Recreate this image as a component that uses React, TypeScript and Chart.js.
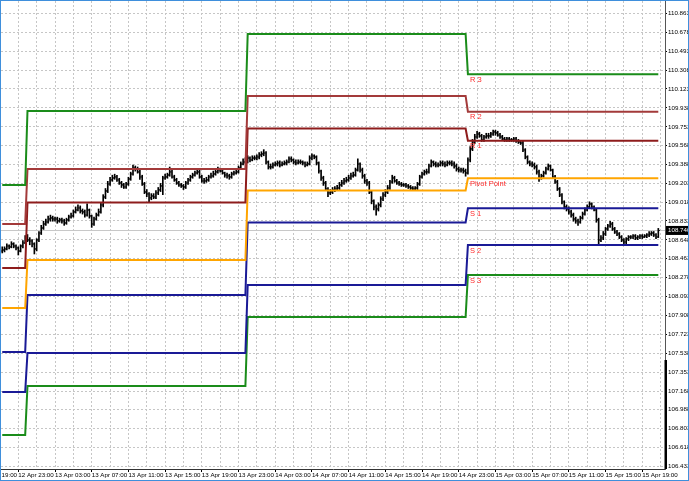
import React, { useEffect, useRef } from "react";
import { Chart, registerables } from "chart.js";

Chart.register(...registerables);

// ---- time layout (hours relative to 13 Apr 00:00), 15-minute bars ----
const barStartHour = -2.75; // 12 Apr 21:15
const barStepHours = 0.25;
const axisMinHour = -2.886;
const axisMaxHour = 69.48;
const gridStartHour = -1;
const gridStepHours = 2;

// ---- price bars (USDJPY-like, M15) ----
const firstOpen = 108.539;
const closes = [
  108.549,108.559,108.588,108.579,108.608,108.588,108.569,108.539,108.588,108.618,
  108.667,108.647,108.637,108.608,108.559,108.647,108.715,108.764,108.803,108.823,
  108.852,108.862,108.852,108.852,108.833,108.843,108.833,108.813,108.843,108.872,
  108.882,108.921,108.940,108.960,108.931,108.921,108.891,108.940,108.882,108.803,
  108.852,108.891,108.921,108.989,109.067,109.126,109.194,109.234,109.253,109.263,
  109.234,109.204,109.185,109.165,109.194,109.243,109.292,109.351,109.341,109.312,
  109.263,109.194,109.116,109.097,109.058,109.077,109.067,109.107,109.136,109.175,
  109.253,109.263,109.282,109.312,109.263,109.234,109.204,109.185,109.175,109.165,
  109.204,109.234,109.263,109.282,109.302,109.312,109.263,109.224,109.224,109.234,
  109.263,109.273,109.292,109.312,109.331,109.321,109.302,109.282,109.273,109.263,
  109.292,109.302,109.312,109.351,109.390,109.409,109.419,109.448,109.429,109.448,
  109.448,109.458,109.478,109.488,109.497,109.409,109.361,109.361,109.380,109.390,
  109.400,109.380,109.390,109.400,109.409,109.439,109.429,109.409,109.400,109.409,
  109.409,109.400,109.380,109.390,109.448,109.468,109.458,109.400,109.321,109.253,
  109.204,109.146,109.107,109.116,109.136,109.146,109.155,109.185,109.204,109.224,
  109.234,109.253,109.273,109.282,109.331,109.390,109.331,109.273,109.224,109.204,
  109.116,109.028,108.970,108.950,108.989,109.048,109.087,109.116,109.155,109.214,
  109.253,109.224,109.204,109.194,109.185,109.185,109.175,109.165,109.155,109.146,
  109.155,109.194,109.263,109.292,109.312,109.312,109.370,109.409,109.390,109.380,
  109.380,109.400,109.390,109.380,109.400,109.400,109.390,109.370,109.341,109.331,
  109.331,109.321,109.302,109.429,109.537,109.605,109.654,109.683,109.664,109.625,
  109.654,109.664,109.664,109.683,109.703,109.693,109.673,109.654,109.634,109.625,
  109.634,109.625,109.625,109.634,109.615,109.605,109.595,109.527,109.458,109.409,
  109.390,109.380,109.361,109.312,109.253,109.273,109.302,109.341,109.370,109.331,
  109.263,109.214,109.146,109.087,109.019,108.970,108.950,108.921,108.891,108.852,
  108.833,108.823,108.862,108.901,108.940,108.970,108.999,108.970,108.940,108.843,
  108.647,108.667,108.706,108.755,108.784,108.803,108.755,108.725,108.706,108.676,
  108.647,108.627,108.657,108.676,108.676,108.686,108.667,108.676,108.686,108.676,
  108.686,108.696,108.706,108.715,108.696,108.676,108.740
];
const highs = [
  108.58,108.58,108.61,108.60,108.63,108.62,108.60,108.58,108.60,108.64,
  108.69,108.70,108.67,108.65,108.62,108.66,108.73,108.79,108.83,108.85,
  108.88,108.89,108.88,108.87,108.87,108.86,108.86,108.85,108.86,108.89,
  108.91,108.94,108.97,108.99,108.98,108.95,108.94,109.00,108.95,108.89,
  108.87,108.91,108.95,109.01,109.09,109.15,109.22,109.26,109.28,109.29,
  109.28,109.25,109.22,109.20,109.21,109.26,109.31,109.38,109.37,109.36,
  109.33,109.28,109.21,109.14,109.11,109.10,109.10,109.13,109.16,109.20,
  109.27,109.29,109.30,109.36,109.33,109.28,109.25,109.22,109.20,109.19,
  109.22,109.25,109.28,109.30,109.32,109.34,109.33,109.28,109.25,109.26,
  109.28,109.30,109.32,109.33,109.36,109.35,109.34,109.31,109.30,109.29,
  109.31,109.32,109.33,109.37,109.41,109.44,109.45,109.47,109.46,109.47,
  109.47,109.48,109.50,109.51,109.53,109.51,109.42,109.39,109.40,109.41,
  109.42,109.42,109.41,109.42,109.43,109.46,109.46,109.44,109.43,109.43,
  109.43,109.42,109.41,109.41,109.47,109.49,109.48,109.47,109.41,109.33,
  109.27,109.22,109.16,109.14,109.16,109.17,109.18,109.21,109.23,109.25,
  109.26,109.28,109.30,109.31,109.35,109.44,109.40,109.35,109.29,109.24,
  109.22,109.13,109.04,108.99,109.01,109.07,109.11,109.14,109.18,109.23,
  109.28,109.27,109.24,109.22,109.21,109.20,109.20,109.19,109.18,109.17,
  109.17,109.21,109.28,109.31,109.33,109.34,109.39,109.43,109.42,109.41,
  109.40,109.42,109.42,109.41,109.42,109.42,109.42,109.41,109.39,109.36,
  109.35,109.35,109.34,109.45,109.56,109.63,109.68,109.71,109.70,109.68,
  109.67,109.69,109.69,109.70,109.72,109.72,109.71,109.69,109.67,109.65,
  109.65,109.65,109.64,109.65,109.65,109.63,109.62,109.61,109.54,109.47,
  109.42,109.41,109.40,109.38,109.33,109.29,109.32,109.36,109.39,109.38,
  109.34,109.28,109.23,109.16,109.10,109.03,108.99,108.97,108.94,108.91,
  108.87,108.85,108.88,108.92,108.96,108.99,109.02,109.01,108.98,108.95,
  108.86,108.69,108.73,108.77,108.80,108.83,108.82,108.77,108.74,108.72,
  108.69,108.66,108.67,108.69,108.69,108.70,108.70,108.69,108.70,108.70,
  108.70,108.71,108.73,108.73,108.73,108.71,108.76
];
const lows = [
  108.52,108.53,108.55,108.56,108.57,108.57,108.55,108.50,108.53,108.57,
  108.61,108.63,108.60,108.58,108.51,108.54,108.63,108.70,108.75,108.79,
  108.81,108.83,108.83,108.83,108.81,108.82,108.81,108.79,108.80,108.83,
  108.86,108.87,108.91,108.93,108.91,108.90,108.87,108.88,108.86,108.77,
  108.79,108.84,108.88,108.91,108.97,109.05,109.11,109.18,109.22,109.24,
  109.22,109.19,109.16,109.15,109.15,109.18,109.23,109.28,109.32,109.30,
  109.24,109.18,109.10,109.07,109.02,109.04,109.05,109.05,109.09,109.12,
  109.09,109.24,109.25,109.27,109.25,109.22,109.19,109.17,109.16,109.14,
  109.15,109.19,109.22,109.25,109.27,109.29,109.25,109.21,109.20,109.21,
  109.22,109.25,109.26,109.28,109.30,109.31,109.29,109.26,109.25,109.24,
  109.25,109.28,109.29,109.30,109.34,109.38,109.39,109.40,109.41,109.42,
  109.43,109.43,109.44,109.46,109.47,109.39,109.34,109.34,109.35,109.37,
  109.37,109.36,109.37,109.38,109.38,109.40,109.41,109.39,109.38,109.39,
  109.39,109.38,109.36,109.37,109.38,109.43,109.44,109.38,109.30,109.23,
  109.18,109.13,109.07,109.09,109.10,109.12,109.13,109.14,109.17,109.19,
  109.21,109.22,109.24,109.26,109.27,109.32,109.31,109.25,109.20,109.18,
  109.10,109.00,108.94,108.89,108.93,108.97,109.03,109.07,109.10,109.14,
  109.20,109.21,109.19,109.18,109.17,109.17,109.16,109.15,109.14,109.13,
  109.13,109.14,109.18,109.25,109.28,109.29,109.30,109.36,109.37,109.36,
  109.36,109.37,109.37,109.36,109.37,109.38,109.37,109.35,109.32,109.31,
  109.31,109.30,109.27,109.29,109.41,109.52,109.59,109.64,109.65,109.61,
  109.61,109.64,109.64,109.65,109.67,109.67,109.66,109.64,109.62,109.61,
  109.61,109.61,109.61,109.61,109.60,109.59,109.58,109.51,109.44,109.39,
  109.37,109.36,109.34,109.29,109.22,109.24,109.26,109.29,109.33,109.32,
  109.25,109.20,109.13,109.07,109.00,108.95,108.93,108.90,108.87,108.83,
  108.81,108.79,108.81,108.85,108.89,108.93,108.96,108.95,108.93,108.82,
  108.60,108.63,108.65,108.69,108.74,108.77,108.74,108.71,108.69,108.66,
  108.63,108.60,108.61,108.64,108.66,108.66,108.65,108.65,108.66,108.66,
  108.67,108.67,108.68,108.69,108.68,108.66,108.67
];
const bidPrice = 108.740;
const bidLabel = "108.740";

// ---- daily pivot levels (days: 12, 13, 14, 15 Apr) ----
const dayStartHours = [-24, 0, 24, 48];
const r3Levels = [109.185, 109.908, 110.661, 110.267];
const r2Levels = [108.803, 109.341, 110.055, 109.901];
const r1Levels = [108.373, 109.014, 109.737, 109.618];
const pivotLevels = [107.982, 108.452, 109.131, 109.250];
const s1Levels = [107.552, 108.109, 108.818, 108.957];
const s2Levels = [107.161, 107.542, 108.207, 108.598];
const s3Levels = [106.741, 107.220, 107.894, 108.305];
const levelNames = ["R 3", "R 2", "R 1", "Pivot Point", "S 1", "S 2", "S 3"];
const levelColors = ["#1a8c1a", "#a33a3a", "#8e1c1c", "#ffa500", "#1a1a96", "#1a1a96", "#1a8c1a"];

// ---- axes ----
const yMin = 106.408;
const yMax = 110.983;
const yTickValues = [110.863,110.678,110.493,110.308,110.123,109.938,109.753,109.568,109.388,109.203,109.018,108.833,108.648,108.463,108.278,108.093,107.908,107.723,107.538,107.353,107.168,106.988,106.803,106.618,106.433];
const yTickLabels = ["110.863","110.678","110.493","110.308","110.123","109.938","109.753","109.568","109.388","109.203","109.018","108.833","108.648","108.463","108.278","108.093","107.908","107.723","107.538","107.353","107.168","106.988","106.803","106.618","106.433"];
const xTickHours = [-5, -1, 3, 7, 11, 15, 19, 23, 27, 31, 35, 39, 43, 47, 51, 55, 59, 63, 67];
const xTickLabels = ["12 Apr 19:00","12 Apr 23:00","13 Apr 03:00","13 Apr 07:00","13 Apr 11:00","13 Apr 15:00","13 Apr 19:00","13 Apr 23:00","14 Apr 03:00","14 Apr 07:00","14 Apr 11:00","14 Apr 15:00","14 Apr 19:00","14 Apr 23:00","15 Apr 03:00","15 Apr 07:00","15 Apr 11:00","15 Apr 15:00","15 Apr 19:00"];

const FONT = '"Liberation Sans", Arial, sans-serif';
const barHour = (i: number) => barStartHour + i * barStepHours;
const dayIndex = (h: number) => {
  let d = 0;
  for (let k = 0; k < dayStartHours.length; k++) if (h >= dayStartHours[k]) d = k;
  return d;
};
const allLevels = [r3Levels, r2Levels, r1Levels, pivotLevels, s1Levels, s2Levels, s3Levels];

const mt4Plugin = {
  id: "mt4Look",
  beforeDatasetsDraw(chart: any) {
    const { ctx, chartArea: a, scales } = chart;
    const x = scales.x, y = scales.y;
    ctx.save();
    const by = Math.round(y.getPixelForValue(bidPrice)) + 0.5;
    ctx.strokeStyle = "#c8c8c8";
    ctx.lineWidth = 1;
    ctx.beginPath();
    ctx.moveTo(a.left, by);
    ctx.lineTo(a.right, by);
    ctx.stroke();
    ctx.fillStyle = "#000";
    for (let i = 0; i < closes.length; i++) {
      const px = x.getPixelForValue(barHour(i));
      const o = i === 0 ? firstOpen : closes[i - 1];
      ctx.fillRect(px - 1.5, y.getPixelForValue(o) - 0.5, 1, 1);
      ctx.fillRect(px + 0.5, y.getPixelForValue(closes[i]) - 0.5, 1, 1);
    }
    ctx.restore();
  },
  afterDatasetsDraw(chart: any) {
    const { ctx, scales } = chart;
    const x = scales.x, y = scales.y;
    const last = dayStartHours.length - 1;
    ctx.save();
    ctx.font = `7.5px ${FONT}`;
    ctx.fillStyle = "#ff2a2a";
    ctx.textBaseline = "top";
    ctx.textAlign = "left";
    const lx = x.getPixelForValue(dayStartHours[last]) + 2;
    allLevels.forEach((lv, k) => {
      ctx.fillText(levelNames[k], lx, y.getPixelForValue(lv[last]) + 2);
    });
    ctx.restore();
  },
  afterDraw(chart: any) {
    const { ctx, chartArea: a, scales, width, height } = chart;
    const x = scales.x, y = scales.y;
    ctx.save();
    // time labels
    ctx.font = `6.2px ${FONT}`;
    ctx.fillStyle = "#000";
    ctx.textBaseline = "middle";
    ctx.textAlign = "left";
    xTickHours.forEach((h, i) => {
      ctx.fillText(xTickLabels[i], x.getPixelForValue(h), a.bottom + 6);
    });
    // thick segment on price axis
    ctx.fillStyle = "#000";
    ctx.fillRect(a.right - 0.5, a.bottom - 109, 2.5, 109);
    // bid label
    const by = y.getPixelForValue(bidPrice);
    ctx.fillStyle = "#000";
    ctx.fillRect(a.right + 1, by - 4.5, width - a.right - 1, 9);
    ctx.fillStyle = "#fff";
    ctx.fillText(bidLabel, a.right + 3, by + 0.3);
    // frame
    ctx.strokeStyle = "#3f8fdc";
    ctx.lineWidth = 1;
    ctx.strokeRect(0.5, 0.5, width - 1, height - 1);
    ctx.restore();
  },
};

export default function App() {
  const ref = useRef<HTMLCanvasElement>(null);
  useEffect(() => {
    document.body.style.margin = "0";
    const canvas = ref.current;
    if (!canvas) return;
    const barData = closes.map((c, i) => ({ x: barHour(i), y: [lows[i], highs[i]] }));
    const lineSets = allLevels.map((lv, k) => ({
      type: "line" as const,
      label: levelNames[k],
      data: closes.map((c, i) => ({ x: barHour(i), y: lv[dayIndex(barHour(i))] })),
      borderColor: levelColors[k],
      borderWidth: 2,
      pointRadius: 0,
      tension: 0,
      fill: false,
      order: 1,
    }));
    const gridColor = "#c6c6c6";
    const chart = new Chart(canvas, {
      type: "bar",
      data: {
        datasets: [
          {
            type: "bar",
            label: "Price",
            data: barData as any,
            backgroundColor: "#000",
            borderWidth: 0,
            barThickness: 1,
            order: 2,
          } as any,
          ...(lineSets as any),
        ],
      },
      options: {
        responsive: false,
        animation: false,
        events: [],
        layout: { padding: { left: 1, top: 1, right: 0, bottom: 0 } },
        plugins: { legend: { display: false }, tooltip: { enabled: false } },
        scales: {
          x: {
            type: "linear",
            min: axisMinHour,
            max: axisMaxHour,
            offset: false,
            afterBuildTicks: (s: any) => {
              const t: any[] = [];
              for (let h = gridStartHour; h <= s.max; h += gridStepHours) t.push({ value: h });
              s.ticks = t;
            },
            afterFit: (s: any) => {
              s.height = 12;
              s.paddingLeft = 0;
              s.paddingRight = 0;
            },
            ticks: { display: false, autoSkip: false },
            grid: {
              offset: false,
              color: gridColor,
              lineWidth: 1,
              drawTicks: true,
              tickLength: 3,
              tickColor: (c: any) => (c.index % 2 === 0 ? "#000" : "rgba(0,0,0,0)"),
              tickBorderDash: [],
            },
            border: { display: true, color: "#333", width: 1, dash: [2, 2] },
          } as any,
          y: {
            type: "linear",
            position: "right",
            min: yMin,
            max: yMax,
            afterBuildTicks: (s: any) => {
              s.ticks = yTickValues.map((v) => ({ value: v }));
            },
            afterFit: (s: any) => {
              s.width = 24;
              s.paddingTop = 0;
              s.paddingBottom = 0;
            },
            ticks: {
              autoSkip: false,
              padding: 1,
              color: "#000",
              font: { family: FONT, size: 6.2 },
              callback: (_v: any, i: number) => yTickLabels[i],
            },
            grid: {
              color: gridColor,
              lineWidth: 1,
              drawTicks: true,
              tickLength: 2,
              tickColor: "#000",
              tickBorderDash: [],
            },
            border: { display: true, color: "#555", width: 1, dash: [2, 2] },
          } as any,
        },
      } as any,
      plugins: [mt4Plugin],
    });
    return () => chart.destroy();
  }, []);
  return (
    <div style={{ width: 689, height: 481 }}>
      <canvas ref={ref} width={689} height={481} style={{ display: "block" }} />
    </div>
  );
}
